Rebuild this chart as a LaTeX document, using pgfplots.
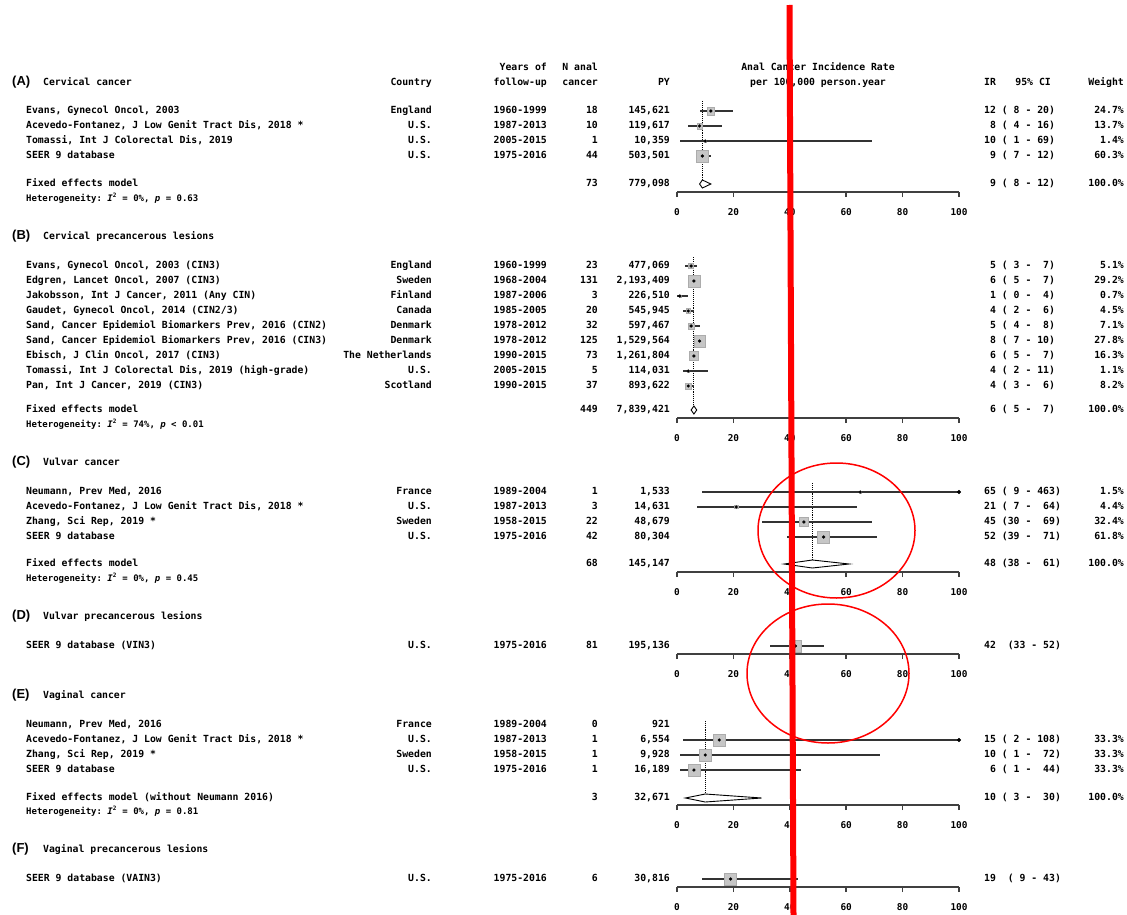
\documentclass[border=0pt]{standalone}
\usepackage{pgfplots}
\pgfplotsset{compat=1.18}
\usepackage{pgfplotstable}
\usepackage{fontspec}
\setmainfont{Liberation Sans}
\newfontfamily\mono{DejaVu Sans Mono}
\newcommand\T{\mono\bfseries\fontsize{9.8}{11}\selectfont\frenchspacing}
\newcommand\TS{\mono\bfseries\fontsize{9}{10}\selectfont\frenchspacing}
\newcommand\TK{\mono\bfseries\fontsize{9.4}{10}\selectfont}
\newcommand\TL{\rmfamily\fontsize{13}{15}\selectfont}

% forest data: y = row position, ir = incidence rate, lo/hi = 95% CI, w = weight (%)
\pgfplotstableread{
y ir lo hi w
-111 12 8 20 24.7
-126 8 4 16 13.7
-141 10 1 69 1.4
-156 9 7 12 60.3
}\tA
\pgfplotstableread{
y ir lo hi w
-266 5 3 7 5.1
-281 6 5 7 29.2
-296 1 0 4 0.7
-311 4 2 6 4.5
-326 5 4 8 7.1
-341 8 7 10 27.8
-356 6 5 7 16.3
-371 4 2 11 1.1
-386 4 3 6 8.2
}\tB
\pgfplotstableread{
y ir lo hi w
-492 65 9 463 1.5
-507 21 7 64 4.4
-522 45 30 69 32.4
-537 52 39 71 61.8
}\tC
\pgfplotstableread{
y ir lo hi w
-646 42 33 52 100
}\tD
\pgfplotstableread{
y ir lo hi w
-740 15 2 108 33.3
-755 10 1 72 33.3
-770 6 1 44 33.3
}\tE
\pgfplotstableread{
y ir lo hi w
-879 19 9 43 100
}\tF

\pgfplotsset{
  panel/.style={x=2.82pt, y=1pt, xmin=0, xmax=100, anchor=south west,
    axis x line*=bottom, axis y line=none, ytick=\empty, clip=false,
    xtick={0,20,...,100}, tick align=outside, major tick length=5pt,
    axis line style={line width=1.5pt, black!75},
    tick style={line width=1.5pt, black!75},
    xticklabel style={font=\TK, anchor=north, yshift=-8pt},
    /pgf/number format/assume math mode=true},
  boxes/.style={scatter, only marks, mark=square*,
    scatter/use mapped color={draw=gray!65, fill=gray!45},
    visualization depends on={6*sqrt(\thisrow{w}/#1) \as \ms},
    scatter/@pre marker code/.append style={/tikz/mark size=\ms}},
  ci/.style={only marks, mark=*, mark size=1.4pt, black,
    error bars/.cd, x dir=both, x explicit, error mark=none,
    error bar style={line width=1.5pt, black!80}},
  fixed/.style={fill=white, draw=black, line width=0.9pt},
  vref/.style={black, densely dotted, line width=1.1pt},
  clipend/.style={only marks, mark=*, mark size=1.8pt, black},
}

\newcommand\row[8]{%
  \node[anchor=mid west] at (26,#1) {#2};
  \node[anchor=mid east] at (432,#1) {#3};
  \node[anchor=mid east] at (547,#1) {#4};
  \node[anchor=mid east] at (598,#1) {#5};
  \node[anchor=mid east] at (670,#1) {#6};
  \node[anchor=mid west] at (984,#1) {#7};
  \node[anchor=mid east] at (1124,#1) {#8};
}
\newcommand\ptitle[3]{%
  \node[anchor=mid west] at (12,#1) {\TL #2};
  \node[anchor=mid west] at (43,#1) {#3};
}
\newcommand\het[2]{\node[anchor=mid west] at (26,#1) {\TS Heterogeneity: \textit{I}\textsuperscript{2} = #2};}

\begin{document}
\begin{tikzpicture}
% (A) Cervical cancer
\begin{axis}[panel, at={(677pt,-192pt)}, ymin=-192, ymax=-95]
  \addplot[vref] coordinates {(9,-101) (9,-180)};
  \addplot[boxes=60.3] table[x=ir, y=y]{\tA};
  \addplot[ci] table[x=ir, y=y, x error plus expr={min(\thisrow{hi},100)-\thisrow{ir}}, x error minus expr={\thisrow{ir}-\thisrow{lo}}]{\tA};
  \addplot[fixed] coordinates {(8,-184) (9,-180) (12,-184) (9,-188)} -- cycle;
\end{axis}
% (B) Cervical precancerous lesions
\begin{axis}[panel, at={(677pt,-418pt)}, ymin=-418, ymax=-250]
  \addplot[vref] coordinates {(6,-257) (6,-406)};
  \addplot[boxes=29.2] table[x=ir, y=y]{\tB};
  \addplot[ci] table[x=ir, y=y, x error plus expr={min(\thisrow{hi},100)-\thisrow{ir}}, x error minus expr={\thisrow{ir}-\thisrow{lo}}]{\tB};
  \addplot[fixed] coordinates {(5,-410) (6,-406) (7,-410) (6,-414)} -- cycle;
\end{axis}
% (C) Vulvar cancer
\begin{axis}[panel, at={(677pt,-572pt)}, ymin=-572, ymax=-478]
  \addplot[vref] coordinates {(48,-483) (48,-560)};
  \addplot[boxes=61.8] table[x=ir, y=y]{\tC};
  \addplot[ci] table[x=ir, y=y, x error plus expr={min(\thisrow{hi},100)-\thisrow{ir}}, x error minus expr={\thisrow{ir}-\thisrow{lo}}]{\tC};
  \addplot[clipend] coordinates {(100,-492)};
  \addplot[fixed] coordinates {(38,-564) (48,-560) (61,-564) (48,-568)} -- cycle;
\end{axis}
% (D) Vulvar precancerous lesions
\begin{axis}[panel, at={(677pt,-654pt)}, ymin=-654, ymax=-635]
  \addplot[boxes=100] table[x=ir, y=y]{\tD};
  \addplot[ci] table[x=ir, y=y, x error plus expr={min(\thisrow{hi},100)-\thisrow{ir}}, x error minus expr={\thisrow{ir}-\thisrow{lo}}]{\tD};
\end{axis}
% (E) Vaginal cancer
\begin{axis}[panel, at={(677pt,-805pt)}, ymin=-805, ymax=-712]
  \addplot[vref] coordinates {(10,-721) (10,-793)};
  \addplot[boxes=33.3] table[x=ir, y=y]{\tE};
  \addplot[ci] table[x=ir, y=y, x error plus expr={min(\thisrow{hi},100)-\thisrow{ir}}, x error minus expr={\thisrow{ir}-\thisrow{lo}}]{\tE};
  \addplot[clipend] coordinates {(100,-740)};
  \addplot[fixed] coordinates {(3,-798) (10,-794) (30,-798) (10,-802)} -- cycle;
\end{axis}
% (F) Vaginal precancerous lesions
\begin{axis}[panel, at={(677pt,-887pt)}, ymin=-887, ymax=-868]
  \addplot[boxes=100] table[x=ir, y=y]{\tF};
  \addplot[ci] table[x=ir, y=y, x error plus expr={min(\thisrow{hi},100)-\thisrow{ir}}, x error minus expr={\thisrow{ir}-\thisrow{lo}}]{\tF};
\end{axis}

\begin{scope}[x=1pt, y=-1pt, every node/.style={inner sep=0pt, font=\T}]
\path[use as bounding box] (0,0) rectangle (1127,915);
% headers
\node[anchor=mid east] at (432,83) {Country};
\node[anchor=mid east] at (547,68) {Years of};
\node[anchor=mid east] at (547,83) {follow-up};
\node[anchor=mid east] at (598,68) {N anal};
\node[anchor=mid east] at (598,83) {cancer};
\node[anchor=mid east] at (670,83) {PY};
\node[anchor=mid] at (818,68) {Anal Cancer Incidence Rate};
\node[anchor=mid] at (818,83) {per 100,000 person.year};
\node[anchor=mid west] at (984,83) {IR};
\node[anchor=mid east] at (1051,83) {95\% CI};
\node[anchor=mid east] at (1124,83) {Weight};
% A
\ptitle{83}{(A)}{Cervical cancer}
\row{111}{Evans, Gynecol Oncol, 2003}{England}{1960-1999}{18}{145,621}{12~(~8~-~20)}{24.7\%}
\row{126}{Acevedo-Fontanez, J Low Genit Tract Dis, 2018 *}{U.S.}{1987-2013}{10}{119,617}{~8~(~4~-~16)}{13.7\%}
\row{141}{Tomassi, Int J Colorectal Dis, 2019}{U.S.}{2005-2015}{1}{10,359}{10~(~1~-~69)}{1.4\%}
\row{156}{SEER 9 database}{U.S.}{1975-2016}{44}{503,501}{~9~(~7~-~12)}{60.3\%}
\row{184}{Fixed effects model}{}{}{73}{779,098}{~9~(~8~-~12)}{100.0\%}
\het{199}{0\%, \textit{p} = 0.63}
% B
\ptitle{237}{(B)}{Cervical precancerous lesions}
\row{266}{Evans, Gynecol Oncol, 2003 (CIN3)}{England}{1960-1999}{23}{477,069}{~5~(~3~-~~7)}{5.1\%}
\row{281}{Edgren, Lancet Oncol, 2007 (CIN3)}{Sweden}{1968-2004}{131}{2,193,409}{~6~(~5~-~~7)}{29.2\%}
\row{296}{Jakobsson, Int J Cancer, 2011 (Any CIN)}{Finland}{1987-2006}{3}{226,510}{~1~(~0~-~~4)}{0.7\%}
\row{311}{Gaudet, Gynecol Oncol, 2014 (CIN2/3)}{Canada}{1985-2005}{20}{545,945}{~4~(~2~-~~6)}{4.5\%}
\row{326}{Sand, Cancer Epidemiol Biomarkers Prev, 2016 (CIN2)}{Denmark}{1978-2012}{32}{597,467}{~5~(~4~-~~8)}{7.1\%}
\row{341}{Sand, Cancer Epidemiol Biomarkers Prev, 2016 (CIN3)}{Denmark}{1978-2012}{125}{1,529,564}{~8~(~7~-~10)}{27.8\%}
\row{356}{Ebisch, J Clin Oncol, 2017 (CIN3)}{The Netherlands}{1990-2015}{73}{1,261,804}{~6~(~5~-~~7)}{16.3\%}
\row{371}{Tomassi, Int J Colorectal Dis, 2019 (high-grade)}{U.S.}{2005-2015}{5}{114,031}{~4~(~2~-~11)}{1.1\%}
\row{386}{Pan, Int J Cancer, 2019 (CIN3)}{Scotland}{1990-2015}{37}{893,622}{~4~(~3~-~~6)}{8.2\%}
\row{410}{Fixed effects model}{}{}{449}{7,839,421}{~6~(~5~-~~7)}{100.0\%}
\het{425}{74\%, \textit{p} < 0.01}
% C
\ptitle{463}{(C)}{Vulvar cancer}
\row{492}{Neumann, Prev Med, 2016}{France}{1989-2004}{1}{1,533}{65~(~9~-~463)}{1.5\%}
\row{507}{Acevedo-Fontanez, J Low Genit Tract Dis, 2018 *}{U.S.}{1987-2013}{3}{14,631}{21~(~7~-~~64)}{4.4\%}
\row{522}{Zhang, Sci Rep, 2019 *}{Sweden}{1958-2015}{22}{48,679}{45~(30~-~~69)}{32.4\%}
\row{537}{SEER 9 database}{U.S.}{1975-2016}{42}{80,304}{52~(39~-~~71)}{61.8\%}
\row{564}{Fixed effects model}{}{}{68}{145,147}{48~(38~-~~61)}{100.0\%}
\het{579}{0\%, \textit{p} = 0.45}
% D
\ptitle{617}{(D)}{Vulvar precancerous lesions}
\row{646}{SEER 9 database (VIN3)}{U.S.}{1975-2016}{81}{195,136}{42~~(33~-~52)}{}
% E
\ptitle{696}{(E)}{Vaginal cancer}
\row{725}{Neumann, Prev Med, 2016}{France}{1989-2004}{0}{921}{}{}
\row{740}{Acevedo-Fontanez, J Low Genit Tract Dis, 2018 *}{U.S.}{1987-2013}{1}{6,554}{15~(~2~-~108)}{33.3\%}
\row{755}{Zhang, Sci Rep, 2019 *}{Sweden}{1958-2015}{1}{9,928}{10~(~1~-~~72)}{33.3\%}
\row{770}{SEER 9 database}{U.S.}{1975-2016}{1}{16,189}{~6~(~1~-~~44)}{33.3\%}
\row{798}{Fixed effects model (without Neumann 2016)}{}{}{3}{32,671}{10~(~3~-~~30)}{100.0\%}
\het{812}{0\%, \textit{p} = 0.81}
% F
\ptitle{850}{(F)}{Vaginal precancerous lesions}
\row{879}{SEER 9 database (VAIN3)}{U.S.}{1975-2016}{6}{30,816}{19~~(~9~-~43)}{}
% red annotations
\draw[red, line width=1.5pt] (836.5,530.5) ellipse [x radius=78.5, y radius=67.5];
\draw[red, line width=1.5pt] (828,673.5) ellipse [x radius=81, y radius=69.5];
\draw[red, line width=6pt] (789.5,5) -- (793.5,915);
\end{scope}
\end{tikzpicture}
\end{document}
